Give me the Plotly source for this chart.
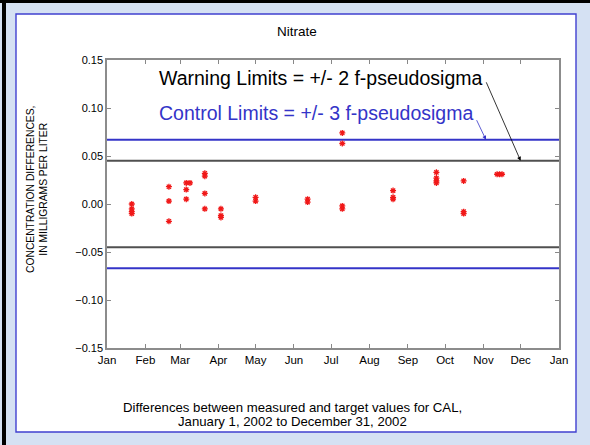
import plotly.graph_objects as go

# Sample dates and concentration differences (mg/L)
sample_dates = [
    "2002-01-21", "2002-01-21", "2002-01-21", "2002-01-21",
    "2002-02-20", "2002-02-20", "2002-02-20",
    "2002-03-06", "2002-03-06", "2002-03-06", "2002-03-09",
    "2002-03-21", "2002-03-21", "2002-03-21", "2002-03-21",
    "2002-04-03", "2002-04-03", "2002-04-03",
    "2002-05-01", "2002-05-01",
    "2002-06-12", "2002-06-12",
    "2002-07-10", "2002-07-10", "2002-07-10", "2002-07-10",
    "2002-08-20", "2002-08-20", "2002-08-20",
    "2002-09-24", "2002-09-24", "2002-09-24", "2002-09-24",
    "2002-10-16", "2002-10-16", "2002-10-16",
    "2002-11-12", "2002-11-14", "2002-11-16",
]
differences = [
    0.000, -0.005, -0.008, -0.010,
    0.018, 0.003, -0.018,
    0.022, 0.015, 0.005, 0.022,
    0.032, 0.029, 0.011, -0.005,
    -0.005, -0.012, -0.014,
    0.007, 0.003,
    0.005, 0.002,
    0.074, 0.063, -0.002, -0.005,
    0.014, 0.007, 0.005,
    0.033, 0.027, 0.024, 0.022,
    0.024, -0.008, -0.010,
    0.031, 0.031, 0.031,
]

warning_limit = 0.045   # 2 f-pseudosigma
control_limit = 0.067   # 3 f-pseudosigma

x_start, x_end = "2002-01-01", "2003-01-01"
y_tick_vals = [-0.15, -0.10, -0.05, 0.00, 0.05, 0.10, 0.15]
y_tick_text = ["\u22120.15", "\u22120.10", "\u22120.05", "0.00", "0.05", "0.10", "0.15"]

W, H = 590, 445
L, R, T, B = 107, 31, 60, 97
pw, ph = W - L - R, H - T - B


def px(x):
    return (x - L) / pw


def py(y):
    return (H - B - y) / ph


font = "Liberation Sans, Arial, Helvetica, sans-serif"
fig = go.Figure()

# limit lines
for lim, col in [(control_limit, "#3434C8"), (-control_limit, "#3434C8"),
                 (warning_limit, "#505050"), (-warning_limit, "#505050")]:
    fig.add_trace(go.Scatter(x=[x_start, x_end], y=[lim, lim], mode="lines",
                             line=dict(color=col, width=2), hoverinfo="skip",
                             showlegend=False))

fig.add_trace(go.Scatter(
    x=sample_dates, y=differences, mode="markers", showlegend=False,
    marker=dict(symbol="asterisk-open", size=5, color="#F01818",
                line=dict(color="#F01818", width=1.3)),
))

shapes = [
    # outer slide frame
    dict(type="rect", xref="paper", yref="paper", x0=px(0), x1=px(W), y0=py(H), y1=py(0),
         fillcolor="#D5E1F3", line=dict(width=0), layer="below"),
    dict(type="rect", xref="paper", yref="paper", x0=px(0), x1=px(W), y0=py(3), y1=py(0),
         fillcolor="#000000", line=dict(width=0), layer="below"),
    dict(type="rect", xref="paper", yref="paper", x0=px(2), x1=px(6), y0=py(H), y1=py(0),
         fillcolor="#000000", line=dict(width=0), layer="below"),
    dict(type="rect", xref="paper", yref="paper", x0=px(16), x1=px(576), y0=py(432), y1=py(14),
         fillcolor="#FFFFFF", line=dict(color="#4040D0", width=1.4), layer="below"),
]


def label(text, x, y, size, color="#000000", anchor="center", angle=0):
    return dict(text=text, xref="paper", yref="paper", x=px(x), y=py(y),
                xanchor=anchor, yanchor="middle", showarrow=False, textangle=angle,
                font=dict(size=size, color=color, family=font))


annotations = [
    label("Nitrate", 297, 31, 13.5),
    label("CONCENTRATION DIFFERENCES,<br>IN MILLIGRAMS PER LITER", 37, 190, 10.3, angle=-90),
    label("Warning Limits = +/- 2 f-pseudosigma", 157, 78, 19.5, anchor="left"),
    label("Control Limits = +/- 3 f-pseudosigma", 157, 113, 19.5, color="#3434C8", anchor="left"),
    label("Differences between measured and target values for CAL,", 292, 407, 13.2),
    label("January 1, 2002 to December 31, 2002", 292, 421, 13.2),
    dict(text="", x="2002-11-03", y=control_limit, ax=-10, ay=-21, showarrow=True,
         arrowhead=2, arrowsize=1, arrowwidth=0.8, arrowcolor="#3434C8"),
    dict(text="", x="2002-12-01", y=warning_limit, ax=-35, ay=-80, showarrow=True,
         arrowhead=2, arrowsize=1, arrowwidth=0.8, arrowcolor="#000000"),
]

fig.update_layout(
    width=W, height=H,
    margin=dict(l=L, r=R, t=T, b=B),
    paper_bgcolor="#D5E1F3", plot_bgcolor="#FFFFFF",
    shapes=shapes, annotations=annotations,
    xaxis=dict(type="date", range=[x_start, x_end], dtick="M1", tickformat="%b",
               tick0="2002-01-01", ticks="inside", ticklen=4, tickcolor="#888888",
               showline=True, linecolor="#8C8C8C", linewidth=1.5, mirror="ticks",
               showgrid=False, zeroline=False,
               tickfont=dict(size=11.5, color="#000000", family=font)),
    yaxis=dict(range=[-0.15, 0.15], tickvals=y_tick_vals, ticktext=y_tick_text,
               ticks="inside", ticklen=4, tickcolor="#888888",
               showline=True, linecolor="#8C8C8C", linewidth=1.5, mirror="ticks",
               showgrid=False, zeroline=False,
               tickfont=dict(size=11, color="#000000", family=font)),
)

fig.write_html("out.html")
